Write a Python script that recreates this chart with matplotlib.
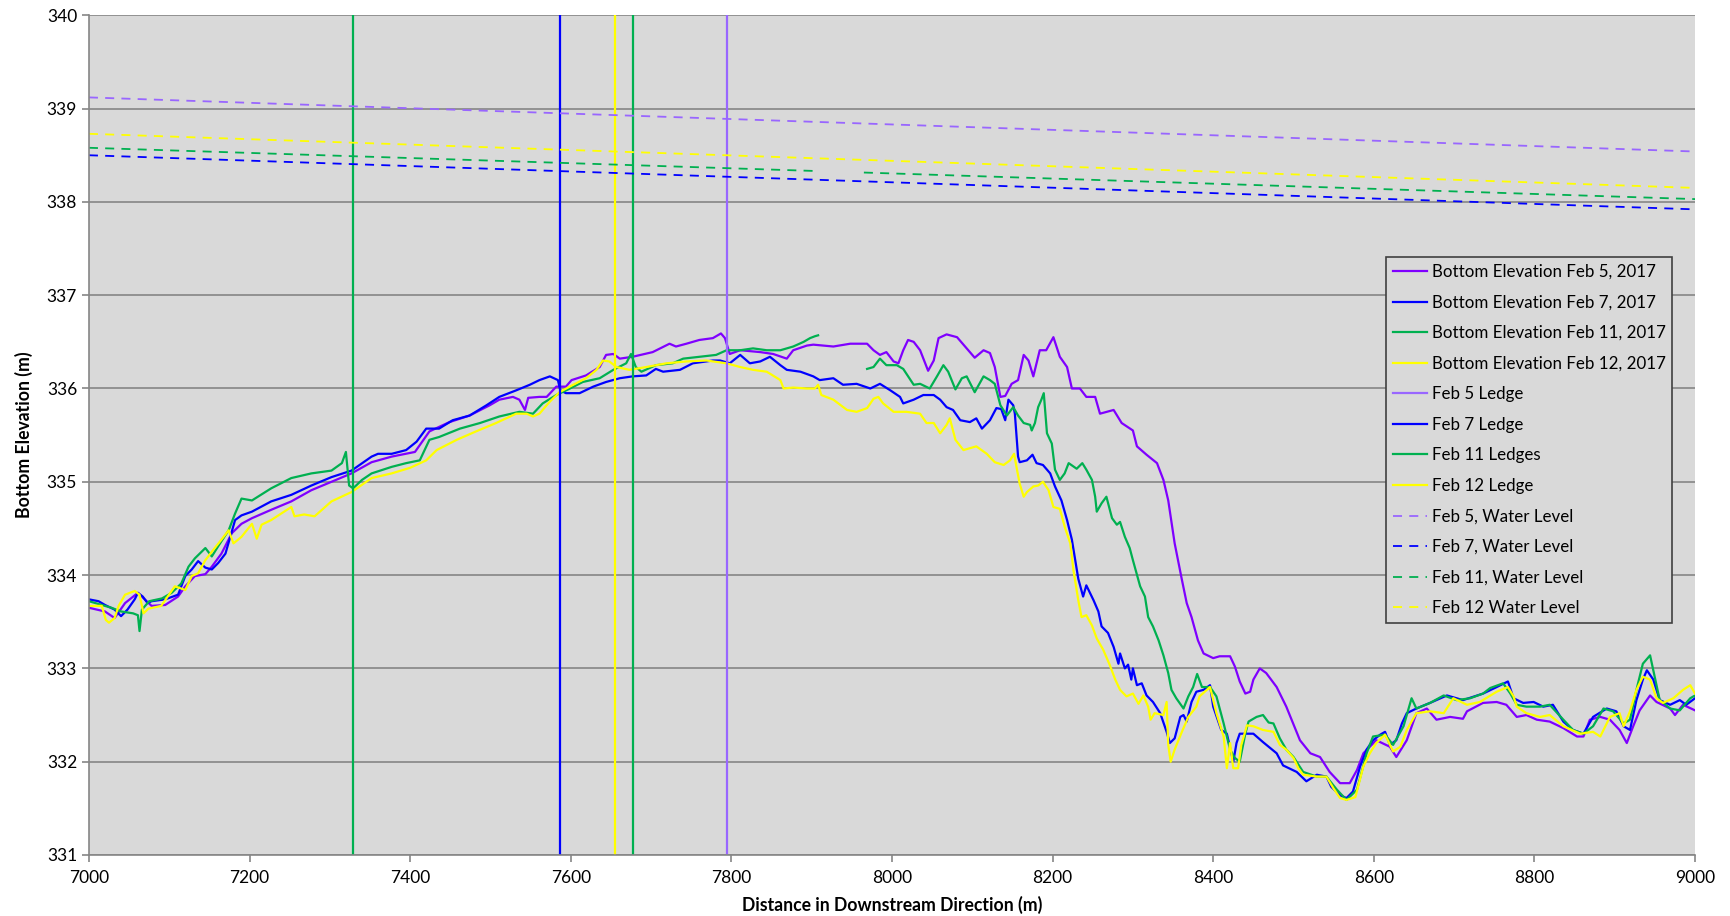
import matplotlib
matplotlib.use("Agg")
import matplotlib.pyplot as plt
import numpy as np

plt.rcParams['font.family'] = ['Lato', 'DejaVu Sans']

# Bottom elevation profiles (distance m, elevation m)
feb5_pts = [
    (7000, 333.65), (7020, 333.61), (7032, 333.54), (7045, 333.70), (7061, 333.81), (7078, 333.67),
    (7095, 333.68), (7111, 333.77), (7120, 333.88), (7132, 333.99), (7145, 334.01), (7153, 334.09),
    (7165, 334.23), (7178, 334.45), (7190, 334.55), (7203, 334.61), (7227, 334.70), (7252, 334.79),
    (7277, 334.91), (7302, 335.00), (7327, 335.09), (7352, 335.21), (7377, 335.27), (7406, 335.32),
    (7424, 335.54), (7449, 335.64), (7474, 335.71), (7499, 335.82), (7511, 335.88), (7528, 335.91),
    (7536, 335.88), (7543, 335.77), (7547, 335.90), (7561, 335.91), (7570, 335.91), (7582, 336.02),
    (7594, 336.02), (7601, 336.09), (7619, 336.14), (7636, 336.23), (7644, 336.36), (7653, 336.37),
    (7661, 336.32), (7677, 336.34), (7702, 336.39), (7723, 336.48), (7731, 336.45), (7744, 336.48),
    (7760, 336.52), (7777, 336.54), (7787, 336.59), (7792, 336.54), (7798, 336.37), (7811, 336.41),
    (7836, 336.39), (7852, 336.37), (7869, 336.32), (7877, 336.41), (7894, 336.46), (7902, 336.47),
    (7927, 336.45), (7948, 336.48), (7969, 336.48), (7977, 336.41), (7985, 336.36), (7993, 336.39),
    (8002, 336.29), (8008, 336.27), (8014, 336.41), (8020, 336.52), (8027, 336.50), (8035, 336.41),
    (8045, 336.19), (8052, 336.30), (8058, 336.54), (8068, 336.58), (8081, 336.55), (8093, 336.43),
    (8103, 336.33), (8114, 336.41), (8122, 336.38), (8128, 336.23), (8135, 335.91), (8141, 335.92),
    (8149, 336.05), (8157, 336.09), (8164, 336.36), (8170, 336.30), (8176, 336.13), (8184, 336.41),
    (8192, 336.41), (8201, 336.55), (8209, 336.34), (8218, 336.23), (8224, 336.00), (8234, 336.00),
    (8242, 335.91), (8253, 335.91), (8259, 335.73), (8276, 335.77), (8286, 335.63), (8300, 335.55),
    (8305, 335.38), (8317, 335.29), (8330, 335.20), (8338, 335.02), (8344, 334.80), (8352, 334.34),
    (8361, 333.95), (8367, 333.70), (8373, 333.55), (8381, 333.30), (8388, 333.16), (8400, 333.11),
    (8408, 333.13), (8421, 333.13), (8427, 333.02), (8433, 332.86), (8440, 332.73), (8446, 332.75),
    (8450, 332.88), (8458, 333.00), (8466, 332.95), (8479, 332.80), (8491, 332.59), (8508, 332.23),
    (8521, 332.09), (8533, 332.05), (8545, 331.89), (8558, 331.77), (8570, 331.77), (8579, 331.91),
    (8587, 332.09), (8603, 332.23), (8620, 332.16), (8628, 332.05), (8641, 332.23), (8653, 332.52),
    (8666, 332.57), (8678, 332.45), (8695, 332.48), (8711, 332.46), (8716, 332.54), (8736, 332.63),
    (8753, 332.64), (8765, 332.61), (8778, 332.48), (8790, 332.50), (8803, 332.45), (8819, 332.43),
    (8836, 332.36), (8853, 332.27), (8861, 332.27), (8869, 332.45), (8882, 332.48), (8894, 332.45),
    (8906, 332.34), (8915, 332.20), (8923, 332.38), (8931, 332.55), (8944, 332.71), (8952, 332.64),
    (8969, 332.57), (8975, 332.50), (8985, 332.61), (9000, 332.55),
]

feb7_pts = [
    (7000, 333.74), (7012, 333.72), (7020, 333.68), (7032, 333.63), (7040, 333.56), (7048, 333.63),
    (7057, 333.74), (7061, 333.81), (7067, 333.77), (7073, 333.70), (7078, 333.72), (7095, 333.74),
    (7111, 333.79), (7120, 333.99), (7128, 334.06), (7136, 334.15), (7145, 334.08), (7153, 334.06),
    (7161, 334.13), (7170, 334.23), (7182, 334.59), (7190, 334.64), (7203, 334.68), (7227, 334.79),
    (7252, 334.86), (7277, 334.96), (7302, 335.05), (7327, 335.12), (7352, 335.27), (7360, 335.30),
    (7377, 335.30), (7395, 335.34), (7408, 335.43), (7420, 335.57), (7436, 335.57), (7453, 335.66),
    (7474, 335.71), (7495, 335.82), (7511, 335.91), (7532, 335.98), (7549, 336.04), (7561, 336.09),
    (7574, 336.13), (7584, 336.09), (7587, 335.98), (7594, 335.95), (7611, 335.95), (7628, 336.02),
    (7644, 336.07), (7661, 336.11), (7677, 336.13), (7694, 336.14), (7706, 336.21), (7715, 336.18),
    (7736, 336.20), (7752, 336.27), (7777, 336.30), (7786, 336.30), (7798, 336.27), (7811, 336.36),
    (7823, 336.27), (7836, 336.29), (7848, 336.34), (7861, 336.25), (7869, 336.20), (7886, 336.18),
    (7902, 336.13), (7910, 336.09), (7927, 336.11), (7939, 336.04), (7956, 336.05), (7973, 336.00),
    (7985, 336.05), (7998, 335.98), (8010, 335.91), (8014, 335.84), (8027, 335.88), (8039, 335.93),
    (8052, 335.93), (8060, 335.88), (8068, 335.80), (8076, 335.77), (8085, 335.66), (8097, 335.64),
    (8105, 335.68), (8112, 335.57), (8122, 335.66), (8130, 335.79), (8136, 335.78), (8141, 335.66),
    (8145, 335.88), (8151, 335.82), (8153, 335.73), (8157, 335.27), (8159, 335.21), (8168, 335.23),
    (8175, 335.29), (8180, 335.20), (8188, 335.18), (8197, 335.09), (8203, 334.95), (8211, 334.80),
    (8218, 334.59), (8224, 334.38), (8232, 333.96), (8238, 333.77), (8242, 333.89), (8251, 333.73),
    (8257, 333.61), (8261, 333.45), (8269, 333.38), (8276, 333.23), (8282, 333.05), (8284, 333.16),
    (8290, 333.00), (8294, 333.04), (8298, 332.88), (8300, 333.00), (8305, 332.82), (8311, 332.84),
    (8317, 332.71), (8325, 332.64), (8334, 332.52), (8342, 332.32), (8346, 332.20), (8352, 332.25),
    (8359, 332.48), (8363, 332.50), (8367, 332.43), (8373, 332.64), (8379, 332.75), (8388, 332.77),
    (8396, 332.82), (8400, 332.59), (8410, 332.34), (8417, 332.30), (8425, 332.00), (8429, 332.20),
    (8433, 332.30), (8442, 332.30), (8450, 332.30), (8462, 332.21), (8479, 332.09), (8487, 331.96),
    (8504, 331.89), (8516, 331.79), (8529, 331.86), (8541, 331.84), (8547, 331.73), (8558, 331.64),
    (8566, 331.61), (8574, 331.68), (8583, 331.95), (8591, 332.13), (8599, 332.23), (8608, 332.29),
    (8614, 332.32), (8620, 332.18), (8628, 332.23), (8635, 332.41), (8641, 332.52), (8653, 332.57),
    (8670, 332.63), (8691, 332.71), (8711, 332.66), (8736, 332.73), (8753, 332.80), (8767, 332.86),
    (8774, 332.68), (8786, 332.63), (8799, 332.64), (8811, 332.59), (8823, 332.61), (8836, 332.43),
    (8848, 332.34), (8861, 332.30), (8873, 332.48), (8890, 332.57), (8902, 332.54), (8911, 332.38),
    (8919, 332.34), (8927, 332.66), (8935, 332.88), (8940, 332.98), (8948, 332.88), (8956, 332.66),
    (8969, 332.61), (8981, 332.66), (8989, 332.61), (9000, 332.68),
]

# Feb 11 survey has a gap in coverage around 7910-7965 m (None = no data)
feb11_pts = [
    (7000, 333.72), (7016, 333.68), (7028, 333.65), (7040, 333.61), (7055, 333.59), (7061, 333.57),
    (7063, 333.40), (7066, 333.63), (7075, 333.72), (7091, 333.75), (7103, 333.81), (7115, 333.91),
    (7124, 334.09), (7132, 334.18), (7145, 334.29), (7153, 334.20), (7161, 334.31), (7174, 334.48),
    (7182, 334.66), (7190, 334.82), (7203, 334.80), (7227, 334.93), (7252, 335.04), (7277, 335.09),
    (7302, 335.12), (7315, 335.20), (7320, 335.32), (7324, 334.96), (7329, 334.93), (7340, 335.02),
    (7352, 335.09), (7377, 335.16), (7395, 335.20), (7412, 335.23), (7424, 335.45), (7436, 335.48),
    (7462, 335.57), (7487, 335.63), (7511, 335.70), (7536, 335.75), (7553, 335.73), (7565, 335.84),
    (7582, 335.93), (7599, 336.00), (7615, 336.07), (7636, 336.11), (7653, 336.20), (7669, 336.27),
    (7675, 336.37), (7681, 336.23), (7688, 336.18), (7706, 336.25), (7727, 336.27), (7740, 336.32),
    (7760, 336.34), (7781, 336.36), (7794, 336.41), (7811, 336.41), (7827, 336.43), (7844, 336.41),
    (7861, 336.41), (7877, 336.45), (7890, 336.50), (7898, 336.54), (7904, 336.56), (7908, 336.57),
    (7940, None),
    (7969, 336.21), (7977, 336.23), (7985, 336.32), (7993, 336.25), (8006, 336.25), (8014, 336.21),
    (8027, 336.04), (8035, 336.05), (8047, 336.00), (8056, 336.13), (8064, 336.25), (8070, 336.18),
    (8079, 335.99), (8087, 336.11), (8093, 336.13), (8103, 335.96), (8114, 336.13), (8122, 336.09),
    (8128, 336.05), (8135, 335.82), (8143, 335.71), (8151, 335.80), (8157, 335.71), (8164, 335.63),
    (8172, 335.61), (8174, 335.55), (8178, 335.63), (8182, 335.80), (8186, 335.88), (8189, 335.95),
    (8193, 335.52), (8199, 335.41), (8203, 335.13), (8209, 335.02), (8215, 335.09), (8220, 335.20),
    (8230, 335.14), (8237, 335.20), (8242, 335.13), (8249, 335.02), (8253, 334.84), (8255, 334.68),
    (8261, 334.77), (8267, 334.84), (8274, 334.61), (8280, 334.54), (8284, 334.57), (8290, 334.41),
    (8296, 334.29), (8300, 334.16), (8309, 333.88), (8315, 333.77), (8319, 333.55), (8325, 333.45),
    (8332, 333.30), (8338, 333.14), (8344, 332.95), (8348, 332.77), (8354, 332.68), (8363, 332.57),
    (8369, 332.70), (8375, 332.80), (8380, 332.94), (8386, 332.80), (8396, 332.80), (8404, 332.70),
    (8413, 332.41), (8421, 332.13), (8427, 332.04), (8433, 332.00), (8440, 332.30), (8444, 332.43),
    (8454, 332.48), (8462, 332.50), (8469, 332.42), (8475, 332.41), (8483, 332.25), (8491, 332.13),
    (8500, 332.05), (8512, 331.89), (8529, 331.84), (8541, 331.84), (8554, 331.70), (8566, 331.59),
    (8579, 331.70), (8591, 332.09), (8599, 332.27), (8614, 332.29), (8624, 332.18), (8637, 332.38),
    (8647, 332.68), (8653, 332.57), (8670, 332.63), (8687, 332.71), (8703, 332.66), (8720, 332.68),
    (8736, 332.73), (8745, 332.79), (8761, 332.84), (8770, 332.73), (8778, 332.61), (8790, 332.59),
    (8807, 332.59), (8819, 332.61), (8836, 332.45), (8848, 332.34), (8861, 332.30), (8873, 332.38),
    (8886, 332.57), (8898, 332.54), (8911, 332.41), (8919, 332.45), (8927, 332.77), (8935, 333.05),
    (8944, 333.14), (8948, 332.98), (8956, 332.66), (8969, 332.57), (8981, 332.55), (8994, 332.68),
    (9000, 332.71),
]

feb12_pts = [
    (7000, 333.67), (7016, 333.67), (7021, 333.52), (7025, 333.49), (7032, 333.54), (7037, 333.67),
    (7045, 333.79), (7057, 333.83), (7063, 333.79), (7068, 333.59), (7074, 333.64), (7090, 333.67),
    (7107, 333.88), (7120, 333.84), (7128, 333.99), (7136, 334.02), (7145, 334.16), (7153, 334.25),
    (7165, 334.38), (7174, 334.48), (7180, 334.34), (7190, 334.41), (7203, 334.55), (7209, 334.39),
    (7215, 334.54), (7227, 334.59), (7252, 334.73), (7256, 334.63), (7268, 334.65), (7281, 334.63),
    (7302, 334.79), (7327, 334.89), (7352, 335.04), (7377, 335.09), (7400, 335.15), (7420, 335.23),
    (7433, 335.34), (7458, 335.45), (7482, 335.54), (7507, 335.63), (7532, 335.73), (7545, 335.73),
    (7553, 335.70), (7561, 335.73), (7574, 335.86), (7586, 335.96), (7603, 336.04), (7619, 336.11),
    (7632, 336.20), (7640, 336.30), (7648, 336.29), (7657, 336.23), (7673, 336.20), (7694, 336.23),
    (7719, 336.27), (7744, 336.29), (7769, 336.30), (7794, 336.27), (7811, 336.23), (7827, 336.20),
    (7844, 336.18), (7861, 336.09), (7865, 336.00), (7877, 336.01), (7894, 336.00), (7904, 336.00),
    (7908, 336.04), (7912, 335.93), (7927, 335.88), (7944, 335.77), (7956, 335.75), (7969, 335.79),
    (7977, 335.89), (7983, 335.91), (7989, 335.84), (8002, 335.75), (8018, 335.75), (8035, 335.73),
    (8043, 335.63), (8052, 335.63), (8060, 335.52), (8068, 335.61), (8072, 335.68), (8079, 335.45),
    (8089, 335.34), (8105, 335.38), (8118, 335.30), (8128, 335.21), (8139, 335.18), (8147, 335.23),
    (8152, 335.30), (8155, 335.16), (8159, 334.98), (8164, 334.84), (8168, 334.89), (8176, 334.95),
    (8182, 334.96), (8188, 335.00), (8195, 334.91), (8201, 334.73), (8209, 334.71), (8215, 334.52),
    (8222, 334.34), (8226, 334.05), (8232, 333.73), (8236, 333.55), (8242, 333.57), (8249, 333.46),
    (8255, 333.32), (8263, 333.20), (8271, 333.04), (8278, 332.88), (8284, 332.77), (8292, 332.70),
    (8300, 332.73), (8307, 332.62), (8313, 332.71), (8319, 332.59), (8322, 332.45), (8327, 332.52),
    (8338, 332.50), (8342, 332.64), (8344, 332.18), (8347, 332.00), (8352, 332.13), (8361, 332.32),
    (8369, 332.48), (8379, 332.59), (8383, 332.70), (8392, 332.77), (8396, 332.80), (8404, 332.52),
    (8413, 332.27), (8417, 331.93), (8421, 332.20), (8425, 331.93), (8431, 331.93), (8435, 332.18),
    (8442, 332.39), (8450, 332.38), (8462, 332.34), (8475, 332.32), (8483, 332.18), (8491, 332.13),
    (8500, 332.04), (8506, 331.93), (8512, 331.86), (8529, 331.84), (8541, 331.84), (8550, 331.71),
    (8558, 331.61), (8566, 331.59), (8577, 331.62), (8587, 331.95), (8595, 332.09), (8603, 332.20),
    (8614, 332.29), (8624, 332.11), (8633, 332.16), (8641, 332.34), (8653, 332.52), (8670, 332.54),
    (8687, 332.52), (8699, 332.68), (8716, 332.61), (8732, 332.64), (8753, 332.75), (8767, 332.80),
    (8774, 332.70), (8778, 332.59), (8790, 332.52), (8807, 332.48), (8819, 332.50), (8836, 332.38),
    (8857, 332.30), (8873, 332.32), (8882, 332.27), (8894, 332.48), (8906, 332.52), (8911, 332.38),
    (8919, 332.54), (8927, 332.77), (8935, 332.91), (8944, 332.88), (8952, 332.68), (8960, 332.63),
    (8973, 332.68), (8985, 332.77), (8994, 332.82), (9000, 332.73),
]

# Ledge positions (m)
feb5_ledge = [7794]
feb7_ledge = [7587]
feb11_ledges = [7329, 7678]
feb12_ledge = [7655]

# Water levels at start / end of reach (m)
wl_x = [7000, 9000]
wl_feb5 = [339.12, 338.54]
wl_feb7 = [338.50, 337.92]
wl_feb11 = [338.58, 338.03]
wl_feb12 = [338.73, 338.15]
wl_feb11_gap = [7905, 7965]

def split(pts):
    x = np.array([p[0] for p in pts], dtype=float)
    y = np.array([np.nan if p[1] is None else p[1] for p in pts], dtype=float)
    return x, y

def vlines(xs, ylo=331, yhi=340):
    x, y = [], []
    for v in xs:
        x += [v, v, np.nan]
        y += [ylo, yhi, np.nan]
    return x, y

C_PURPLE = "#7F00FF"
C_BLUE = "#0000FF"
C_GREEN = "#00B050"
C_YELLOW = "#FFFF00"
C_LILAC = "#9966FF"

fig = plt.figure(figsize=(17.3, 9.16), dpi=100)
ax = fig.add_axes([0.0514, 0.0666, 0.9284, 0.9167])
ax.set_facecolor("#D9D9D9")

lw = 1.6
for pts, c, lab in [(feb5_pts, C_PURPLE, "Bottom Elevation Feb 5, 2017"),
                    (feb7_pts, C_BLUE, "Bottom Elevation Feb 7, 2017"),
                    (feb11_pts, C_GREEN, "Bottom Elevation Feb 11, 2017"),
                    (feb12_pts, C_YELLOW, "Bottom Elevation Feb 12, 2017")]:
    x, y = split(pts)
    ax.plot(x, y, color=c, lw=lw, label=lab)

for xs, c, lab in [(feb5_ledge, C_LILAC, "Feb 5 Ledge"),
                   (feb7_ledge, C_BLUE, "Feb 7 Ledge"),
                   (feb11_ledges, C_GREEN, "Feb 11 Ledges"),
                   (feb12_ledge, C_YELLOW, "Feb 12 Ledge")]:
    vx, vy = vlines(xs)
    ax.plot(vx, vy, color=c, lw=lw, label=lab)

dash = (0, (5, 4))
ax.plot(wl_x, wl_feb5, color=C_LILAC, lw=1.3, ls=dash, label="Feb 5, Water Level")
ax.plot(wl_x, wl_feb7, color=C_BLUE, lw=1.3, ls=dash, label="Feb 7, Water Level")
slope = (wl_feb11[1] - wl_feb11[0]) / (wl_x[1] - wl_x[0])
g_x = [wl_x[0], wl_feb11_gap[0], np.nan, wl_feb11_gap[1], wl_x[1]]
g_y = [wl_feb11[0], wl_feb11[0] + slope * (wl_feb11_gap[0] - wl_x[0]), np.nan,
       wl_feb11[0] + slope * (wl_feb11_gap[1] - wl_x[0]), wl_feb11[1]]
ax.plot(g_x, g_y, color=C_GREEN, lw=1.3, ls=dash, label="Feb 11, Water Level")
ax.plot(wl_x, wl_feb12, color=C_YELLOW, lw=1.3, ls=dash, label="Feb 12 Water Level")

ax.set_xlim(7000, 9000)
ax.set_ylim(331, 340)
ax.set_xticks(np.arange(7000, 9001, 200))
ax.set_yticks(np.arange(331, 341, 1))
ax.grid(axis='y', color="#8C8C8C", lw=1.3)
ax.set_axisbelow(True)
for s in ax.spines.values():
    s.set_color("#868686")
    s.set_linewidth(1.2)
ax.spines['top'].set_visible(False)
ax.spines['right'].set_visible(False)
ax.tick_params(axis='both', colors="#868686", labelcolor="black", labelsize=12.5,
               length=5, width=1.2, direction='out')
ax.tick_params(axis='x', pad=6)

ax.set_xlabel("Distance in Downstream Direction (m)", fontsize=12.7, fontweight='bold', labelpad=7)
ax.set_ylabel("Bottom Elevation (m)", fontsize=12.7, fontweight='bold', labelpad=10)

leg = ax.legend(loc='upper left', bbox_to_anchor=(0.8076, 0.712), borderaxespad=0,
                fontsize=12.2, frameon=True, fancybox=False, handlelength=2.0,
                handletextpad=0.3, labelspacing=0.86, borderpad=0.4)
leg.get_frame().set_facecolor("#D9D9D9")
leg.get_frame().set_edgecolor("#404040")
leg.get_frame().set_linewidth(1.2)
leg.get_frame().set_alpha(1)

fig.savefig("out.png", dpi=100)
